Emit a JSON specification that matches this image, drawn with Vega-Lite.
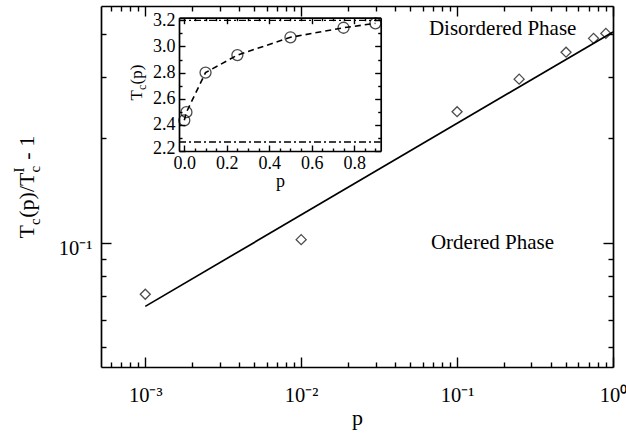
{
  "$schema": "https://vega.github.io/schema/vega-lite/v6.json",
  "width": 512,
  "height": 361,
  "autosize": {"type": "none"},
  "padding": {"left": 101, "top": 6, "right": 13, "bottom": 66},
  "background": "white",
  "config": {
    "view": {"stroke": null},
    "font": "Liberation Serif",
    "axis": {
      "grid": false,
      "domainColor": "black",
      "domainWidth": 1.7,
      "tickColor": "black",
      "tickWidth": 1.4,
      "labelColor": "black",
      "titleColor": "black",
      "labelFont": "Liberation Serif",
      "titleFont": "Liberation Serif",
      "titleFontWeight": "normal",
      "labelOverlap": false,
      "labelFlush": false
    }
  },
  "datasets": {
    "main": [
      {"p": 0.001, "r": 0.071},
      {"p": 0.01, "r": 0.102},
      {"p": 0.1, "r": 0.2385},
      {"p": 0.25, "r": 0.296},
      {"p": 0.5, "r": 0.354},
      {"p": 0.75, "r": 0.388},
      {"p": 0.9, "r": 0.401}
    ],
    "fit": [
      {"p": 0.001, "r": 0.0655},
      {"p": 1, "r": 0.405}
    ],
    "notes": [
      {"p": 0.196, "r": 0.413, "txt": "Disordered Phase"},
      {"p": 0.1686, "r": 0.1, "txt": "Ordered Phase"}
    ],
    "inset": [
      {"p": 0.0, "Tc": 2.435},
      {"p": 0.01, "Tc": 2.497},
      {"p": 0.1, "Tc": 2.80},
      {"p": 0.25, "Tc": 2.934},
      {"p": 0.5, "Tc": 3.07},
      {"p": 0.75, "Tc": 3.143},
      {"p": 0.9, "Tc": 3.177}
    ],
    "refs": [
      {"Tc": 2.269},
      {"Tc": 3.2}
    ]
  },
  "layer": [
    {
      "layer": [
        {
          "data": {"name": "main"},
          "mark": {"type": "point", "shape": "diamond", "size": 100, "filled": false, "color": "black", "strokeWidth": 1.3},
          "encoding": {
            "x": {
              "field": "p", "type": "quantitative",
              "scale": {"type": "log", "domain": [0.00052, 1], "nice": false},
              "axis": {
                "orient": "bottom",
                "values": [0.001, 0.01, 0.1, 1],
                "ticks": false,
                "labelExpr": "datum.value==0.001?'10⁻³':datum.value==0.01?'10⁻²':datum.value==0.1?'10⁻¹':datum.value==1?'10⁰':''",
                "labelFontSize": 20.5,
                "labelBaseline": "alphabetic",
                "labelPadding": 34.7,
                "title": "p",
                "titleFontSize": 22,
                "titleX": 256,
                "titleY": 57,
                "titleAlign": "center",
                "titleBaseline": "alphabetic"
              }
            },
            "y": {
              "field": "r", "type": "quantitative",
              "scale": {"type": "log", "domain": [0.0438, 0.481], "nice": false},
              "axis": {
                "orient": "left",
                "values": [0.1],
                "ticks": false,
                "labelExpr": "datum.value==0.1?'10⁻¹':''",
                "labelFontSize": 20.5,
                "labelPadding": 9,
                "labelBaseline": "alphabetic",
                "labelOffset": 12,
                "title": "T\u2004(p)/T\u2004 - 1",
                "titleFontSize": 22,
                "titleAngle": 270,
                "titleX": -67.7,
                "titleY": 232,
                "titleAlign": "left",
                "titleBaseline": "alphabetic"
              }
            }
          }
        },
        {
          "data": {"name": "fit"},
          "mark": {"type": "line", "color": "black", "strokeWidth": 1.7},
          "encoding": {
            "x": {
              "field": "p", "type": "quantitative",
              "scale": {"type": "log", "domain": [0.00052, 1], "nice": false},
              "axis": {
                "orient": "top",
                "offset": -361,
                "domain": false,
                "values": [0.0006, 0.0007, 0.0008, 0.0009, 0.001, 0.002, 0.003, 0.004, 0.005, 0.006, 0.007, 0.008, 0.009, 0.01, 0.02, 0.03, 0.04, 0.05, 0.06, 0.07, 0.08, 0.09, 0.1, 0.2, 0.3, 0.4, 0.5, 0.6, 0.7, 0.8, 0.9, 1],
                "tickSize": {"condition": {"test": "datum.value==0.001||datum.value==0.01||datum.value==0.1||datum.value==1", "value": 10}, "value": 5},
                "labels": false,
                "title": "c",
                "titleFontSize": 15,
                "titleAngle": 270,
                "titleX": -61.5,
                "titleY": -194.9,
                "titleAlign": "left",
                "titleBaseline": "alphabetic"
              }
            },
            "y": {
              "field": "r", "type": "quantitative",
              "scale": {"type": "log", "domain": [0.0438, 0.481], "nice": false},
              "axis": {
                "orient": "right",
                "offset": -512,
                "domain": false,
                "values": [0.05, 0.06, 0.07, 0.08, 0.09, 0.1, 0.2, 0.3, 0.4],
                "tickSize": {"condition": {"test": "datum.value==0.1", "value": 10}, "value": 5},
                "labels": false,
                "title": "c",
                "titleFontSize": 15,
                "titleAngle": 270,
                "titleX": -61.5,
                "titleY": 218.6,
                "titleAlign": "left",
                "titleBaseline": "alphabetic"
              }
            }
          }
        },
        {
          "data": {"name": "notes"},
          "mark": {"type": "text", "font": "Liberation Serif", "fontSize": 21, "color": "black", "align": "center", "baseline": "middle"},
          "encoding": {
            "x": {
              "field": "p", "type": "quantitative",
              "scale": {"type": "log", "domain": [0.00052, 1], "nice": false},
              "axis": {
                "orient": "bottom",
                "offset": -361,
                "values": [0.0006, 0.0007, 0.0008, 0.0009, 0.001, 0.002, 0.003, 0.004, 0.005, 0.006, 0.007, 0.008, 0.009, 0.01, 0.02, 0.03, 0.04, 0.05, 0.06, 0.07, 0.08, 0.09, 0.1, 0.2, 0.3, 0.4, 0.5, 0.6, 0.7, 0.8, 0.9, 1],
                "tickSize": {"condition": {"test": "datum.value==0.001||datum.value==0.01||datum.value==0.1||datum.value==1", "value": 10}, "value": 5},
                "labels": false,
                "title": null
              }
            },
            "y": {
              "field": "r", "type": "quantitative",
              "scale": {"type": "log", "domain": [0.0438, 0.481], "nice": false},
              "axis": {
                "orient": "left",
                "offset": -512,
                "values": [0.05, 0.06, 0.07, 0.08, 0.09, 0.1, 0.2, 0.3, 0.4],
                "tickSize": {"condition": {"test": "datum.value==0.1", "value": 10}, "value": 5},
                "labels": false,
                "title": null
              }
            },
            "text": {"field": "txt"}
          }
        }
      ],
      "resolve": {"axis": {"x": "independent", "y": "independent"}}
    },
    {
      "layer": [
        {
          "data": {"name": "refs"},
          "mark": {"type": "rule", "color": "black", "strokeWidth": 1.3, "strokeDash": [7, 3, 2, 3]},
          "encoding": {
            "x": {
              "datum": -0.025, "type": "quantitative",
              "scale": {"domain": [-0.025, 0.925], "range": [78, 279.7], "nice": false, "zero": false},
              "axis": {
                "orient": "bottom",
                "offset": -349.3,
                "values": [0, 0.05, 0.1, 0.15, 0.2, 0.25, 0.3, 0.35, 0.4, 0.45, 0.5, 0.55, 0.6, 0.65, 0.7, 0.75, 0.8, 0.85, 0.9],
                "tickSize": {"condition": {"test": "round(datum.value*100)%20==0", "value": 6}, "value": 3},
                "labels": false,
                "title": "I",
                "titleFontSize": 15,
                "titleAngle": 270,
                "titleX": -78,
                "titleY": 154.4,
                "titleAlign": "left",
                "titleBaseline": "alphabetic"
              }
            },
            "x2": {"datum": 0.925},
            "y": {
              "field": "Tc", "type": "quantitative",
              "scale": {"domain": [2.2, 3.22], "range": [145, 11.7], "nice": false, "zero": false},
              "axis": {
                "orient": "left",
                "offset": -279.7,
                "values": [2.2, 2.3, 2.4, 2.5, 2.6, 2.7, 2.8, 2.9, 3.0, 3.1, 3.2],
                "tickSize": {"condition": {"test": "round(datum.value*10)%2==0", "value": 6}, "value": 3},
                "labels": false,
                "title": "c",
                "titleFontSize": 12,
                "titleAngle": 270,
                "titleX": -235,
                "titleY": 83.6,
                "titleAlign": "left",
                "titleBaseline": "alphabetic"
              }
            }
          }
        },
        {
          "data": {"name": "inset"},
          "mark": {"type": "line", "color": "black", "strokeWidth": 1.6, "strokeDash": [6, 4]},
          "encoding": {
            "x": {
              "field": "p", "type": "quantitative",
              "scale": {"domain": [-0.025, 0.925], "range": [78, 279.7], "nice": false, "zero": false},
              "axis": {
                "orient": "top",
                "offset": -145,
                "domain": false,
                "values": [0, 0.05, 0.1, 0.15, 0.2, 0.25, 0.3, 0.35, 0.4, 0.45, 0.5, 0.55, 0.6, 0.65, 0.7, 0.75, 0.8, 0.85, 0.9],
                "tickSize": {"condition": {"test": "round(datum.value*100)%20==0", "value": 6}, "value": 3},
                "labels": false,
                "title": null
              }
            },
            "y": {
              "field": "Tc", "type": "quantitative",
              "scale": {"domain": [2.2, 3.22], "range": [145, 11.7], "nice": false, "zero": false},
              "axis": {
                "orient": "right",
                "offset": -434,
                "domain": false,
                "values": [2.2, 2.3, 2.4, 2.5, 2.6, 2.7, 2.8, 2.9, 3.0, 3.1, 3.2],
                "tickSize": {"condition": {"test": "round(datum.value*10)%2==0", "value": 6}, "value": 3},
                "labels": false,
                "title": null
              }
            }
          }
        },
        {
          "data": {"name": "inset"},
          "mark": {"type": "point", "shape": "circle", "size": 121, "filled": false, "color": "black", "strokeWidth": 1.3},
          "encoding": {
            "x": {
              "field": "p", "type": "quantitative",
              "scale": {"domain": [-0.025, 0.925], "range": [78, 279.7], "nice": false, "zero": false},
              "axis": {
                "orient": "bottom",
                "offset": -216,
                "values": [0, 0.2, 0.4, 0.6, 0.8],
                "ticks": false,
                "format": ".1f",
                "labelFontSize": 18,
                "labelBaseline": "alphabetic",
                "labelPadding": 17.3,
                "title": "p",
                "titleFontSize": 18,
                "titleX": 178.9,
                "titleY": 35,
                "titleAlign": "center",
                "titleBaseline": "alphabetic"
              }
            },
            "y": {
              "field": "Tc", "type": "quantitative",
              "scale": {"domain": [2.2, 3.22], "range": [145, 11.7], "nice": false, "zero": false},
              "axis": {
                "orient": "left",
                "offset": -78,
                "values": [2.2, 2.4, 2.6, 2.8, 3.0, 3.2],
                "ticks": false,
                "format": ".1f",
                "labelFontSize": 18,
                "labelPadding": 4,
                "labelBaseline": "middle",
                "labelOffset": {"condition": {"test": "datum.value < 2.25", "value": -3}, "value": 0},
                "title": "T\u2004(p)",
                "titleFontSize": 17,
                "titleAngle": 270,
                "titleX": -37.3,
                "titleY": 94,
                "titleAlign": "left",
                "titleBaseline": "alphabetic"
              }
            }
          }
        }
      ],
      "resolve": {"axis": {"x": "independent", "y": "independent"}}
    }
  ],
  "resolve": {"scale": {"x": "independent", "y": "independent"}}
}
